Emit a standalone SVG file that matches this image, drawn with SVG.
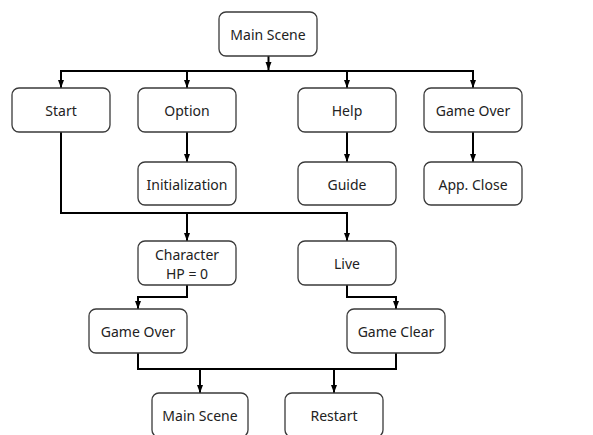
<svg xmlns="http://www.w3.org/2000/svg" width="593" height="435" viewBox="0 0 593 435">
<style>
.box{fill:#fff;stroke:#3a3a3a;stroke-width:1.3}
.t{font-family:"Noto Sans","Open Sans",sans-serif;font-size:14px;fill:#222;text-anchor:middle;dominant-baseline:central}
.c{fill:none;stroke:#000;stroke-width:2}
</style>
<defs>
<marker id="ah" markerUnits="userSpaceOnUse" markerWidth="8" markerHeight="8" viewBox="0 0 8 8" refX="8" refY="4" orient="auto">
<path d="M0,1 L8,4 L0,7 Z" fill="#000"/>
</marker>
</defs>
<rect width="593" height="435" fill="#fff"/>
<g id="connectors">
<path class="c" d="M268.5,56 V70" marker-end="url(#ah)"/>
<path class="c" d="M61,88 V71 H473 V88" marker-end="url(#ah)"/>
<path class="c" d="M61,71 V88" marker-end="url(#ah)"/>
<path class="c" d="M187,71 V88" marker-end="url(#ah)"/>
<path class="c" d="M347,71 V88" marker-end="url(#ah)"/>
<path class="c" d="M187,132 V162" marker-end="url(#ah)"/>
<path class="c" d="M347,132 V162" marker-end="url(#ah)"/>
<path class="c" d="M473,132 V162" marker-end="url(#ah)"/>
<path class="c" d="M61,132 V213 H347 V241" marker-end="url(#ah)"/>
<path class="c" d="M187,213 V241" marker-end="url(#ah)"/>
<path class="c" d="M187,285 V297 H138 V309" marker-end="url(#ah)"/>
<path class="c" d="M347,285 V297 H396 V309" marker-end="url(#ah)"/>
<path class="c" d="M138,353 V369 H396 V353"/>
<path class="c" d="M200,369 V393" marker-end="url(#ah)"/>
<path class="c" d="M334,369 V393" marker-end="url(#ah)"/>
</g>
<g id="main"><rect class="box" x="219" y="12" width="98" height="44" rx="7"/><text class="t" x="268" y="34">Main Scene</text></g>
<g id="start"><rect class="box" x="12" y="88" width="98" height="44" rx="7"/><text class="t" x="61" y="110">Start</text></g>
<g id="option"><rect class="box" x="138" y="88" width="98" height="44" rx="7"/><text class="t" x="187" y="110">Option</text></g>
<g id="help"><rect class="box" x="298" y="88" width="98" height="44" rx="7"/><text class="t" x="347" y="110">Help</text></g>
<g id="gameover1"><rect class="box" x="424" y="88" width="98" height="44" rx="7"/><text class="t" x="473" y="110">Game Over</text></g>
<g id="init"><rect class="box" x="138" y="162" width="98" height="43" rx="7"/><text class="t" x="187" y="184">Initialization</text></g>
<g id="guide"><rect class="box" x="298" y="162" width="98" height="43" rx="7"/><text class="t" x="347" y="184">Guide</text></g>
<g id="appclose"><rect class="box" x="424" y="162" width="98" height="43" rx="7"/><text class="t" x="473" y="184">App. Close</text></g>
<g id="character"><rect class="box" x="138" y="241" width="98" height="44" rx="7"/><text class="t" x="187" y="254">Character</text><text class="t" x="187" y="273">HP = 0</text></g>
<g id="live"><rect class="box" x="298" y="241" width="98" height="44" rx="7"/><text class="t" x="347" y="263">Live</text></g>
<g id="gameover2"><rect class="box" x="89" y="309" width="98" height="44" rx="7"/><text class="t" x="138" y="331">Game Over</text></g>
<g id="gameclear"><rect class="box" x="347" y="309" width="98" height="44" rx="7"/><text class="t" x="396" y="331">Game Clear</text></g>
<g id="mainscene2"><rect class="box" x="152" y="393" width="96" height="44" rx="7"/><text class="t" x="200" y="415">Main Scene</text></g>
<g id="restart"><rect class="box" x="285" y="393" width="98" height="44" rx="7"/><text class="t" x="334" y="415">Restart</text></g>
</svg>
